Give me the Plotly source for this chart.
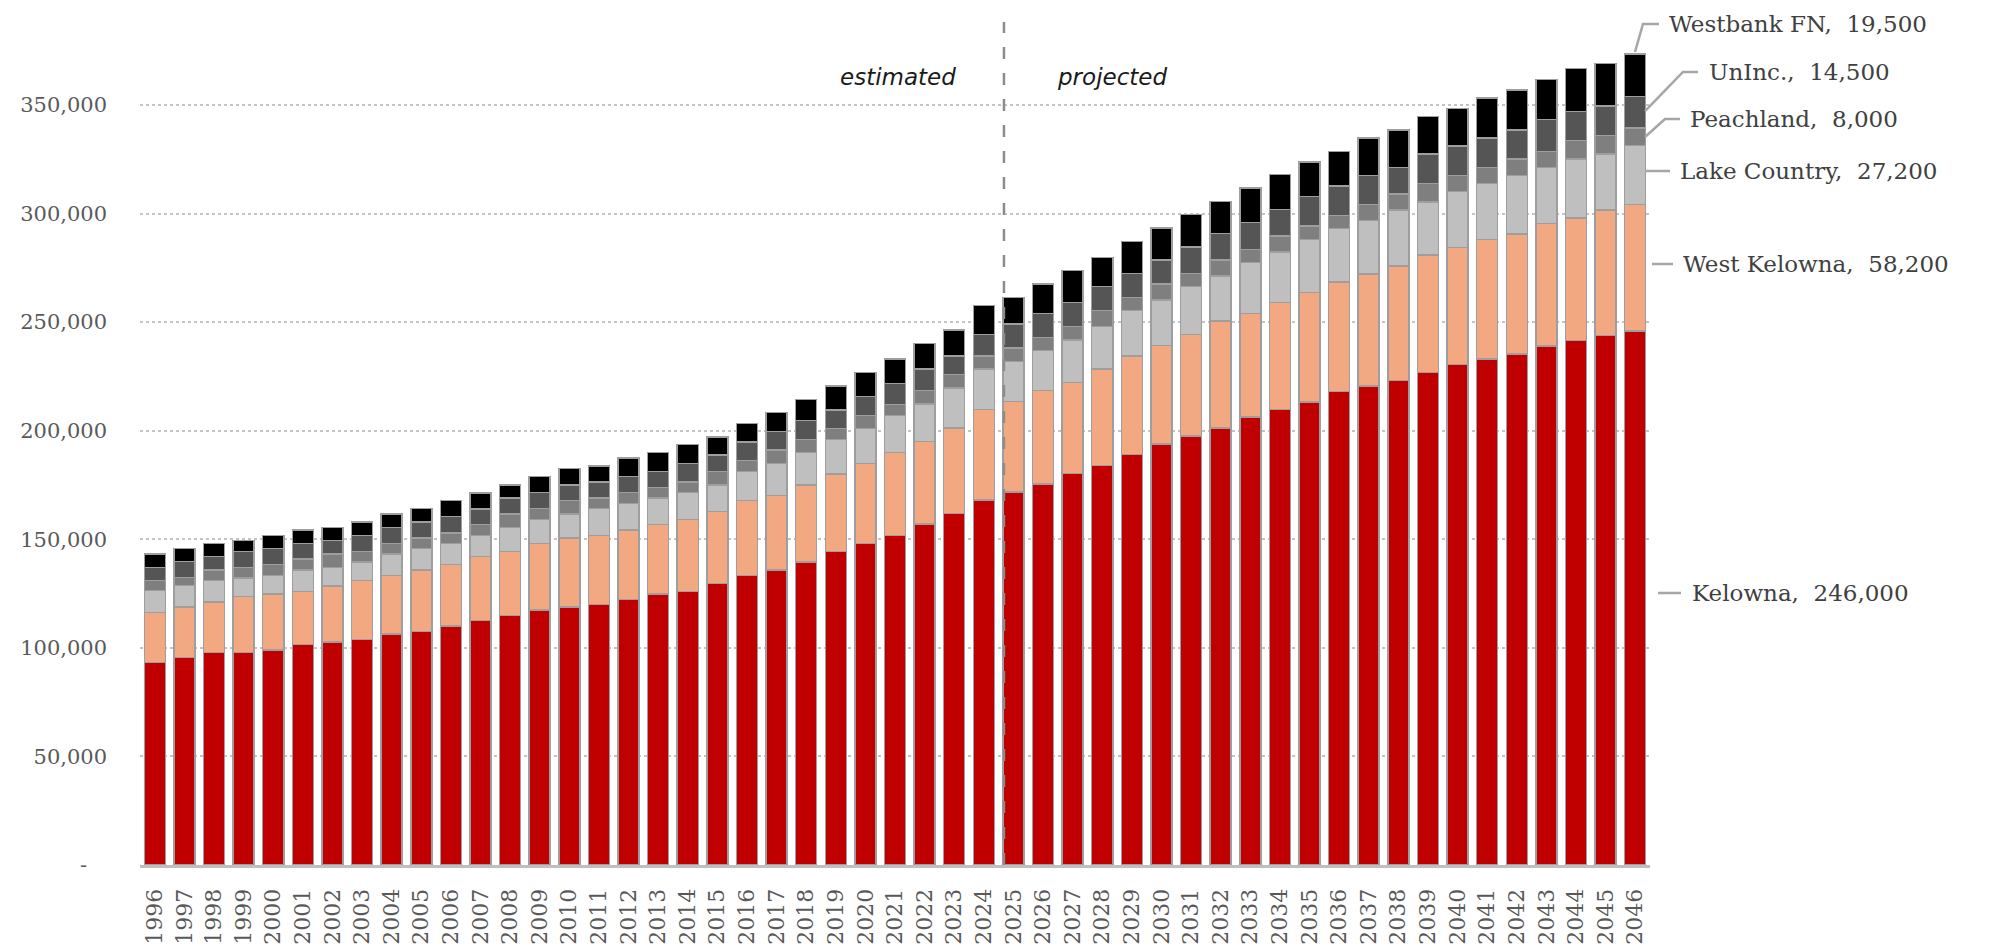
import plotly.graph_objects as go

# ---------------- data ----------------
years = list(range(1996, 2047))
year_labels = [str(y) for y in years]

kelowna = [93200, 95500, 97900, 97900, 99000, 101600, 102700, 103900, 106400, 107600,
           110100, 112500, 115000, 117400, 118700, 119900, 122300, 124800, 126000, 129700,
           133400, 135800, 139500, 144400, 148100, 151800, 157000, 161900, 168100, 171800,
           175500, 180400, 184000, 189000, 193900, 197600, 201200, 206200, 209800, 213200,
           218100, 220600, 223000, 226700, 230400, 232900, 235300, 239000, 241500, 243900,
           246000]
west_kelowna = [23000, 23200, 23200, 25700, 25800, 24400, 25800, 27000, 27000, 28200,
                28200, 29500, 29400, 30700, 31900, 31900, 32000, 31900, 33200, 33200,
                34400, 34400, 35600, 35700, 36900, 38100, 38100, 39300, 41700, 41700,
                42900, 41700, 44300, 45400, 45400, 46600, 49200, 47800, 49200, 50400,
                50400, 51600, 52800, 54100, 54000, 55200, 55300, 56500, 56400, 57700,
                58200]
lake_country = [10100, 9900, 9800, 8600, 8600, 9800, 8600, 8600, 9800, 9900,
                9800, 9800, 11100, 11100, 11000, 12300, 12200, 12300, 12300, 12200,
                13500, 14800, 14800, 15900, 15900, 17200, 17200, 18500, 18500, 18400,
                18500, 19700, 19600, 20900, 20900, 22100, 20800, 23400, 23300, 24500,
                24500, 24500, 25800, 24500, 25800, 25800, 27000, 25800, 27100, 25800,
                27200]
peachland = [4600, 3900, 4900, 4900, 4900, 5000, 6100, 4900, 4900, 4900,
             4900, 4900, 6100, 4900, 6200, 4900, 5000, 4900, 4900, 6200,
             4900, 6100, 6100, 4900, 6200, 4900, 6100, 6100, 6100, 6200,
             6100, 6100, 7400, 6100, 7300, 6200, 7400, 6100, 7400, 6200,
             6200, 7400, 7400, 8600, 7400, 7400, 7400, 7300, 8600, 8600,
             8000]
uninc = [6200, 7200, 6200, 7300, 7400, 7300, 6200, 7400, 7400, 7400,
         7400, 7300, 7400, 7400, 7300, 7400, 7300, 7400, 8600, 7400,
         8600, 8600, 8600, 8600, 8600, 9800, 9900, 8600, 9800, 11000,
         11000, 11100, 11000, 11100, 11100, 12200, 12300, 12300, 12200, 13500,
         13500, 13500, 12300, 13500, 13500, 13500, 13500, 14800, 13500, 13500,
         14500]
westbank_fn = [6100, 6000, 6100, 5000, 6100, 6200, 6100, 6200, 6100, 6100,
               7400, 7400, 6100, 7300, 7400, 7300, 8600, 8600, 8600, 8500,
               8600, 8600, 9800, 11100, 11000, 11100, 11900, 12000, 13500, 12300,
               13500, 14700, 13500, 14700, 14700, 14800, 14700, 16000, 16000, 15900,
               15900, 17200, 17200, 17200, 17200, 18400, 18400, 18400, 19600, 19700,
               19500]

series_names = ["Kelowna", "West Kelowna", "Lake Country", "Peachland", "UnInc.", "Westbank FN"]
series_values = [kelowna, west_kelowna, lake_country, peachland, uninc, westbank_fn]
series_colors = ["#C00000", "#F2A981", "#BFBFBF", "#7F7F7F", "#555555", "#000000"]

y_tickvals = [0, 50000, 100000, 150000, 200000, 250000, 300000, 350000]
y_ticktext = ["-\u00a0\u00a0\u00a0", "50,000", "100,000", "150,000", "200,000",
              "250,000", "300,000", "350,000"]

period_labels = ["estimated", "projected"]
split_year = 2024.68  # boundary between estimated and projected

# ---------------- layout constants ----------------
W, H = 2000, 946
ML, MR, MT, MB = 140, 350, 22, 81
Y_MAX = 388200
X_MIN, X_MAX = years[0] - 0.5, years[-1] + 0.5
plot_w = W - ML - MR
plot_h = H - MT - MB

SERIF = "DejaVu Serif"
TXT = "#404040"

fig = go.Figure()
for name, vals, col in zip(series_names, series_values, series_colors):
    fig.add_trace(go.Bar(
        x=years, y=vals, name=name,
        marker=dict(color=col, line=dict(color="#9E9E9E", width=1.5)),
        showlegend=False,
    ))


def px_to_paper(px, py):
    return (px - ML) / plot_w, (H - MB - py) / plot_h


# leader lines + labels (positions in pixels of the output canvas)
label_specs = [
    # series index, leader polyline points (px), text left x, text center y
    (5, [(1635, 52), (1643, 24), (1659, 24)], 1667, 24),
    (4, [(1645, 111), (1683, 72), (1698, 72)], 1707, 72),
    (3, [(1645, 137), (1665, 119), (1680, 119)], 1688, 119),
    (2, [(1645, 171), (1670, 171)], 1678, 171),
    (1, [(1652, 264), (1673, 264)], 1681, 264),
    (0, [(1658, 593), (1681, 593)], 1690, 593),
]
shapes = []
annotations = []
for idx, pts, tx, ty in label_specs:
    ppts = [px_to_paper(a, b) for a, b in pts]
    path = "M " + " L ".join(f"{a:.5f},{b:.5f}" for a, b in ppts)
    shapes.append(dict(type="path", path=path, xref="paper", yref="paper",
                       line=dict(color="#A6A6A6", width=2.5), layer="above"))
    ax_, ay_ = px_to_paper(tx, ty)
    annotations.append(dict(
        x=ax_, y=ay_, xref="paper", yref="paper", xanchor="left", yanchor="middle",
        text=f"{series_names[idx]},\u00a0 {series_values[idx][-1]:,}",
        showarrow=False, font=dict(family=SERIF, size=23, color=TXT),
    ))

# estimated / projected divider
shapes.append(dict(type="line", xref="x", yref="paper", x0=split_year, x1=split_year,
                   y0=0, y1=1, line=dict(color="#8C8C8C", width=2.5, dash="12px,14px"),
                   layer="above"))
annotations.append(dict(x=split_year - 1.55, y=362900, xref="x", yref="y",
                        xanchor="right", yanchor="middle", text=period_labels[0],
                        showarrow=False,
                        font=dict(family="DejaVu Sans", size=23, color="#1a1a1a", style="italic")))
annotations.append(dict(x=split_year + 1.72, y=362900, xref="x", yref="y",
                        xanchor="left", yanchor="middle", text=period_labels[1],
                        showarrow=False,
                        font=dict(family="DejaVu Sans", size=23, color="#1a1a1a", style="italic")))

fig.update_layout(
    width=W, height=H,
    margin=dict(l=ML, r=MR, t=MT, b=MB, pad=0, autoexpand=False),
    barmode="stack", bargap=0.29,
    plot_bgcolor="white", paper_bgcolor="white",
    shapes=shapes, annotations=annotations,
    xaxis=dict(
        type="linear", range=[X_MIN, X_MAX], automargin=False,
        tickmode="array", tickvals=years, ticktext=year_labels,
        tickangle=-90, showgrid=False, zeroline=False,
        showline=True, linecolor="#BFBFBF", linewidth=3,
        ticks="", ticklabelstandoff=12,
        tickfont=dict(family=SERIF, size=22, color="#595959"),
    ),
    yaxis=dict(
        range=[0, Y_MAX], automargin=False,
        tickmode="array", tickvals=y_tickvals, ticktext=y_ticktext,
        showgrid=True, gridcolor="#C4C4C4", griddash="dot", gridwidth=2,
        zeroline=False, showline=False, ticks="", ticklabelstandoff=32,
        tickfont=dict(family=SERIF, size=21, color="#595959"),
    ),
)

fig.write_html("out.html", config={"displayModeBar": False},
               post_script="document.body.style.margin='0';")
